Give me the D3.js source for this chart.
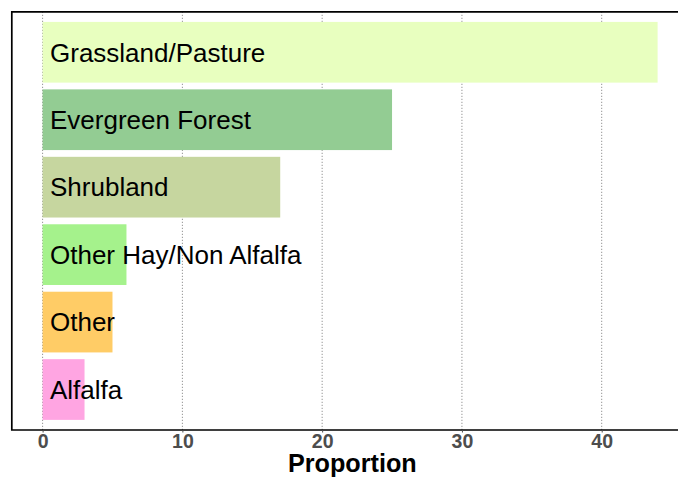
<!DOCTYPE html>
<html><head><meta charset="utf-8">
<script src="https://cdn.jsdelivr.net/npm/d3@7"></script>
<style>body{margin:0;background:#fff}svg{display:block}</style>
</head><body><svg id="c" width="678" height="478"></svg>
<script>
const categories = ["Grassland/Pasture","Evergreen Forest","Shrubland","Other Hay/Non Alfalfa","Other","Alfalfa"];
const values = [44, 25, 17, 6, 5, 3];
const colors = ["#E8FFBF","#93CC93","#C6D69F","#A5F28C","#FFCC66","#FFA5E2"];
const xTicks = [0, 10, 20, 30, 40];
const xTitle = "Proportion";

(function () {
const svg = d3.select("#c");
const pLeft = 11.8, pTop = 11.8, pBottom = 430, pRight = 700;
const x = d3.scaleLinear().domain([0, 40]).range([42.6, 601.7]);
const y = d3.scaleBand().domain(categories).range([pTop, pBottom]).paddingInner(0.1).paddingOuter(0.15);

// grid
svg.append("g").selectAll("line").data(xTicks).join("line")
  .attr("x1", d => x(d)).attr("x2", d => x(d))
  .attr("y1", pTop).attr("y2", pBottom)
  .attr("stroke", "#7a7a7a").attr("stroke-width", 1).attr("stroke-dasharray", "1,2");

// bars
svg.append("g").selectAll("rect").data(categories).join("rect")
  .attr("x", x(0)).attr("y", d => y(d))
  .attr("width", (d, i) => x(values[i]) - x(0))
  .attr("height", y.bandwidth())
  .attr("fill", (d, i) => colors[i]);

// labels
svg.append("g").selectAll("text").data(categories).join("text")
  .attr("x", x(0) + 7.4).attr("y", d => y(d) + y.bandwidth() / 2 + 9.3)
  .attr("font-family", "Liberation Sans, Arial, sans-serif").attr("font-size", 26)
  .attr("fill", "#000").text(d => d);

// panel border (left, top) and axis line
svg.append("path")
  .attr("d", `M${pRight},${pTop}H${pLeft}V${pBottom}H${pRight}`)
  .attr("fill", "none").attr("stroke", "#000").attr("stroke-width", 1.7);

// x axis
const ax = svg.append("g").attr("transform", `translate(0,${pBottom})`)
  .call(d3.axisBottom(x).tickValues(xTicks).tickSize(2.5).tickPadding(1.5).tickFormat(d3.format("d")));
ax.select(".domain").remove();
ax.selectAll("line").attr("stroke", "#4d4d4d");
ax.selectAll("text").attr("font-family", "Liberation Sans, Arial, sans-serif")
  .attr("font-size", 19.5).attr("font-weight", "bold").attr("fill", "#4d4d4d");

svg.append("text").attr("x", (x(0) + 658) / 2 + 2).attr("y", 472)
  .attr("text-anchor", "middle")
  .attr("font-family", "Liberation Sans, Arial, sans-serif").attr("font-size", 25.2)
  .attr("font-weight", "bold").attr("fill", "#000").text(xTitle);
})();
</script></body></html>
